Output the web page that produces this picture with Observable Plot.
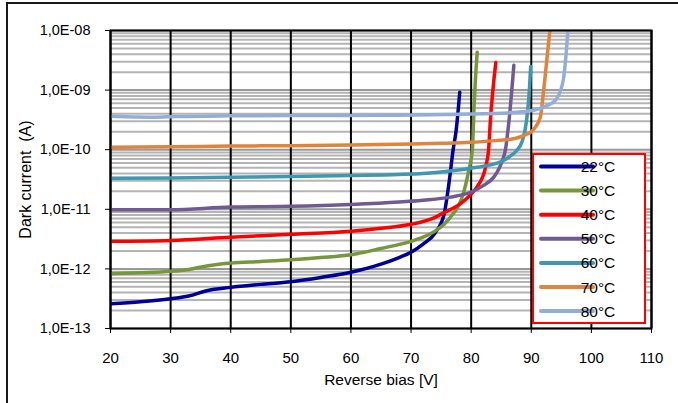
<!DOCTYPE html>
<html><head><meta charset="utf-8">
<script src="https://cdn.jsdelivr.net/npm/d3@7"></script>
<script src="https://cdn.jsdelivr.net/npm/@observablehq/plot@0.6"></script>
<style>
body{margin:0;background:#fff;font-family:"Liberation Sans",Arial,sans-serif;}
#wrap{position:relative;width:678px;height:403px;overflow:hidden;}
#frame{position:absolute;left:6px;top:2px;width:700px;height:500px;border-left:2px solid #1a1a1a;border-top:2px solid #1a1a1a;pointer-events:none;}
svg{display:block;}
</style></head><body><div id="wrap"><div id="chart"></div><div id="frame"></div></div>
<script>
// Series labels and colours
const temps = ["22°C","30°C","40°C","50°C","60°C","70°C","80°C"];
const colors = ["#000099","#77973D","#FF0000","#6F5A93","#3E98B0","#E0843D","#93AED6"];

// Reverse bias (V) and dark current (A) per temperature
const v22 = [20,25,30,33,36,40,45,50,55,60,65,68,70,72,74,75.5,76.3,77,77.5,78.1];
const i22 = [2.6e-13,2.8e-13,3.15e-13,3.5e-13,4.3e-13,4.9e-13,5.5e-13,6.1e-13,7.2e-13,8.8e-13,1.2e-12,1.55e-12,1.9e-12,2.6e-12,4.0e-12,8.3e-12,2.7e-11,1.0e-10,2.1e-10,9.2e-10];
const v30 = [20,25,30,33,36,38,40,45,50,55,60,65,70,72,74,75.5,77,78,78.8,79.6,80.2,80.5,81];
const i30 = [8.3e-13,8.6e-13,9.1e-13,9.8e-13,1.12e-12,1.2e-12,1.25e-12,1.33e-12,1.42e-12,1.55e-12,1.73e-12,2.2e-12,2.9e-12,3.4e-12,4.3e-12,5.6e-12,8.4e-12,1.2e-11,2.0e-11,4.5e-11,1.0e-10,5.9e-10,4.3e-9];
const v40 = [20,30,40,50,60,65,70,73.8,75.5,78,80,81,82.4,82.9,83.2,84.1];
const i40 = [2.9e-12,3.0e-12,3.4e-12,3.8e-12,4.3e-12,4.8e-12,5.6e-12,7.2e-12,8.8e-12,1.2e-11,1.8e-11,2.4e-11,5.1e-11,1.0e-10,3.1e-10,2.9e-9];
const v50 = [20,30,40,50,60,68,72,76.5,80,82,83.8,84.7,85.2,85.7,86.3,87.1];
const i50 = [9.8e-12,9.8e-12,1.09e-11,1.12e-11,1.2e-11,1.32e-11,1.42e-11,1.6e-11,1.95e-11,2.5e-11,3.5e-11,5.0e-11,6.6e-11,1.0e-10,3.1e-10,2.6e-9];
const v60 = [20,30,40,50,60,68,72,76.5,80,83,85,86.5,87.5,88.5,89.2,89.6,89.9];
const i60 = [3.33e-11,3.35e-11,3.45e-11,3.55e-11,3.7e-11,3.85e-11,4.0e-11,4.4e-11,4.9e-11,5.5e-11,6.3e-11,7.8e-11,9.5e-11,1.4e-10,3.0e-10,7.6e-10,2.5e-9];
const v70 = [20,30,40,50,60,70,75,80,84,86.6,88.8,90.4,91.5,92,92.4,92.8,93.1];
const i70 = [1.10e-10,1.12e-10,1.15e-10,1.17e-10,1.2e-10,1.25e-10,1.28e-10,1.33e-10,1.42e-10,1.5e-10,1.74e-10,2.2e-10,3.5e-10,8.7e-10,2.1e-9,5.2e-9,1.0e-8];
const v80 = [20,24,27,31,40,50,60,68,76,85,90.4,92.6,94,94.9,95.4,95.8,96.1];
const i80 = [3.65e-10,3.55e-10,3.5e-10,3.6e-10,3.7e-10,3.75e-10,3.75e-10,3.8e-10,3.9e-10,4.1e-10,4.6e-10,5.5e-10,6.7e-10,1.0e-9,1.65e-9,4.1e-9,1.0e-8];

// Axis ticks
const xTicks = [20,30,40,50,60,70,80,90,100,110];
const yTicks = [1e-13,1e-12,1e-11,1e-10,1e-9,1e-8];
const yTickLabels = ["1,0E-13","1,0E-12","1,0E-11","1,0E-10","1,0E-09","1,0E-08"];
const xTitle = "Reverse bias [V]";
const yTitle = "Dark current  (A)";

const vs = [v22,v30,v40,v50,v60,v70,v80];
const is = [i22,i30,i40,i50,i60,i70,i80];
const rows = [];
temps.forEach((t,k)=>vs[k].forEach((v,j)=>rows.push({temp:t, v, i: is[k][j]})));

const minor = [];
yTicks.slice(0,-1).forEach(d=>{ for (let m=2;m<=9;m++) minor.push(d*m); });

const font = '"Liberation Sans", Arial, sans-serif';
const plot = Plot.plot({
  width: 678, height: 403,
  marginLeft: 110, marginRight: 27, marginTop: 30, marginBottom: 75,
  style: {fontFamily: font, fontSize: "14px", color: "#000", background: "#fff"},
  x: {domain: [20,110], ticks: xTicks},
  y: {type: "log", domain: [1e-13,1e-8], ticks: yTicks},
  color: {domain: temps, range: colors},
  marks: [
    Plot.ruleY(minor, {stroke: "#b4b4b4", strokeWidth: 2}),
    Plot.ruleY(yTicks, {stroke: "#999", strokeWidth: 2}),
    Plot.ruleX(xTicks, {stroke: "#000", strokeWidth: 2}),
    Plot.line(rows, {x: "v", y: "i", z: "temp", stroke: "temp", strokeWidth: 3.5, curve: "monotone-x", clip: true}),
    Plot.frame({stroke: "#000", strokeWidth: 2}),
    Plot.axisX(xTicks, {tickSize: 5, tickPadding: 19, fontSize: 15, label: null, tickFormat: d => String(d)}),
    Plot.axisY(yTicks, {tickSize: 5, tickPadding: 15, fontSize: 14.5, label: null, tickFormat: d => yTickLabels[yTicks.indexOf(d)]}),
    Plot.text([xTitle], {frameAnchor: "bottom", dy: 56, fontSize: 15.5, fill: "#000"}),
    Plot.text([yTitle], {frameAnchor: "left", dx: -85, rotate: -90, textAnchor: "middle", fontSize: 16, fill: "#000"})
  ]
});
document.getElementById("chart").appendChild(plot);

// Legend (boxed, red border) inside the plot area
const svg = d3.select(plot);
const lg = svg.append("g");
lg.append("rect").attr("x",533).attr("y",154).attr("width",112).attr("height",169)
  .attr("fill","#fff").attr("stroke","#ff0000").attr("stroke-width",2);
temps.forEach((t,k)=>{
  const y = 166.5 + k*24.1;
  lg.append("line").attr("x1",541).attr("x2",593).attr("y1",y).attr("y2",y)
    .attr("stroke",colors[k]).attr("stroke-width",4).attr("stroke-linecap","round");
  lg.append("text").attr("x",598).attr("y",y).attr("dy","0.36em")
    .attr("font-family",font).attr("font-size",15.5).attr("fill","#000").text(t);
});
</script></body></html>
